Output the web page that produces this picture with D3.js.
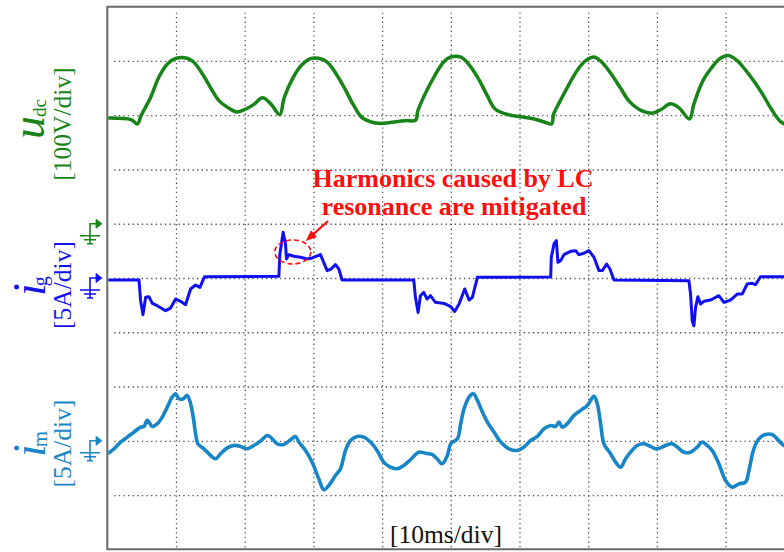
<!DOCTYPE html>
<html>
<head>
<meta charset="utf-8">
<script src="https://cdn.jsdelivr.net/npm/d3@7"></script>
<style>
  html, body { margin: 0; padding: 0; background: #ffffff; }
  svg { display: block; }
  text { font-family: "Liberation Serif", "Times New Roman", serif; }
</style>
</head>
<body>
<svg id="scope" width="784" height="552"></svg>
<script>
// Time axis: 10 ms per division, 10 divisions
const timeGridMs = [10, 20, 30, 40, 50, 60, 70, 80, 90];
const voltGridDiv = [1, 2, 3, 4, 5, 6, 7, 8, 9];

// DC-link voltage u_dc (V)
const udcTime = [0,3.45,4.39,4.90,6.28,7.53,8.79,10.04,11.61,12.56,13.81,15.07,16.32,17.58,18.83,20.09,21.34,22.60,23.85,25.11,25.74,26.99,28.25,29.50,30.76,32.02,33.27,34.53,35.78,37.04,38.29,39.55,41.43,43.31,44.88,45.20,46.45,47.71,48.96,49.91,51.48,52.73,53.99,55.24,56.50,58.38,60.26,62.15,63.72,64.66,64.97,65.91,67.17,68.42,69.68,70.94,72.19,73.45,74.70,75.96,77.84,79.41,80.67,81.92,83.18,84.75,85.37,86.63,87.88,89.14,90.40,91.65,92.91,94.16,95.42,96.67,98.12,100];
const udcValue = [195,192,184,199,232,271,295,305,305,298,277,250,226,214,206,211,220,232,220,201,232,268,292,304,305,298,277,250,220,196,188,185,187,190,191,208,244,274,298,307,307,292,268,238,211,201,197,193,187,184,202,226,256,283,301,307,295,274,250,226,208,204,211,221,214,193,220,262,286,304,310,301,283,262,238,211,187,178];

// Grid current i_g (A)
const igTime = [0,4.61,4.85,5.19,5.58,6.06,6.55,7.27,8.48,9.21,9.94,10.67,11.39,12.12,12.85,13.48,14.16,24.97,25.12,25.60,25.94,26.08,26.42,27.15,28.12,29.09,29.82,31.03,32.00,32.58,33.21,33.70,34.18,44.61,44.85,45.24,45.58,46.06,46.55,47.03,47.76,49.02,49.99,50.57,51.20,52.03,52.66,53.14,53.87,64.54,64.63,65.02,65.36,65.60,65.99,66.47,67.44,68.17,68.66,69.38,70.11,70.84,71.57,72.05,72.68,73.17,73.75,84.66,84.90,85.14,85.38,85.63,85.97,86.35,86.84,87.81,89.02,89.75,90.72,91.69,92.41,93.14,93.87,94.35,95.08,100];
const igValue = [-0.18,-0.18,-2.09,-3.38,-1.78,-1.72,-2.34,-2.55,-3.01,-2.77,-1.94,-2.15,-2.46,-1.01,-0.65,-0.86,0.12,0.15,2.21,4.21,3.14,1.75,2.15,2.0,1.91,1.75,1.85,2.15,0.68,0.83,1.23,0.83,-0.18,-0.18,-1.78,-3.17,-1.63,-1.32,-1.94,-1.63,-2.24,-2.34,-2.64,-3.08,-2.40,-1.01,-2.03,-1.78,0.06,0.10,1.91,3.14,3.44,1.45,1.60,2.15,2.46,2.52,2.15,2.28,2.52,1.91,0.68,0.68,1.29,0.83,-0.18,-0.25,-1.48,-3.94,-4.40,-2.71,-1.72,-2.40,-2.15,-2.03,-1.63,-2.24,-2.03,-1.48,-1.48,-0.55,-0.49,-0.62,0.12,0.12];

// Motor current i_m (A)
const imTime = [0,0.97,1.94,2.91,3.88,4.85,5.33,5.82,6.55,7.27,8.00,8.73,9.45,9.94,10.42,11.05,11.64,12.12,12.51,12.85,13.19,14.06,15.03,15.76,16.48,17.45,18.42,19.39,20.36,21.33,22.30,23.27,23.76,24.73,25.70,26.67,27.39,27.88,28.85,29.82,30.79,31.52,32.24,33.21,33.94,34.67,35.39,36.36,37.33,38.30,39.27,40.24,41.21,42.18,43.15,44.12,45.33,46.30,47.27,48.00,48.73,49.50,49.99,50.96,51.44,51.93,52.66,53.29,53.87,54.60,55.32,56.29,57.26,58.47,59.69,60.66,61.63,62.60,63.57,64.54,65.26,65.75,66.23,66.96,67.93,68.90,69.87,70.84,71.32,71.81,72.29,73.26,73.99,74.72,75.44,76.17,77.14,78.11,79.08,79.81,80.53,81.26,82.23,82.96,83.93,84.90,85.87,86.59,87.32,88.05,89.02,89.99,90.96,91.93,92.90,93.38,94.11,94.84,95.81,96.78,97.50,98.47,100];
const imValue = [-1.20,-0.74,-0.12,0.34,0.80,1.26,1.32,1.88,1.32,1.57,2.18,3.11,4.03,4.34,3.87,3.87,4.18,3.41,2.18,0.65,-0.28,-0.74,-1.35,-1.66,-1.20,-0.65,-0.43,-0.52,-0.74,-0.43,-0.03,0.49,0.34,-0.28,-0.34,0.09,0.40,-0.12,-0.89,-1.97,-3.51,-4.52,-4.12,-3.20,-2.58,-0.89,0.03,0.40,0.34,-0.12,-0.89,-1.97,-2.43,-2.58,-2.27,-1.75,-1.05,-1.14,-1.26,-1.66,-2.12,-1.35,-0.28,0.18,1.57,2.95,4.03,4.34,3.72,2.65,1.72,0.80,-0.12,-0.74,-0.89,-0.58,0.03,0.40,1.11,1.41,1.32,1.72,1.26,1.57,2.34,2.80,3.26,4.09,3.41,1.57,-0.28,-1.20,-1.97,-2.43,-1.66,-1.05,-0.43,-0.28,-0.52,-0.74,-0.65,-0.43,-0.28,-0.58,-1.05,-1.05,-0.58,-0.12,-0.43,-0.89,-2.12,-3.66,-4.27,-3.97,-3.81,-2.77,-0.74,0.18,0.58,0.58,0.18,-0.43,-0.60];

const svg = d3.select("#scope");

// Screen geometry: 10 x 10 divisions, right edge runs past the window
const scrLeft = 107.3, scrTop = 6.7, scrBottom = 549.3, divW = 68.7;
const x = d3.scaleLinear().domain([0, 100]).range([scrLeft, scrLeft + 10 * divW]);
const yDiv = d3.scaleLinear().domain([0, 10]).range([scrTop, scrBottom]);

// Per-channel vertical scales: ground offset and volts/amps per division
const yU  = d3.scaleLinear().domain([-600, 400]).range([scrBottom, scrTop]); // 100 V/div, ground at div 4
const yIg = d3.scaleLinear().domain([-25, 25]).range([scrBottom, scrTop]);   // 5 A/div, ground at div 5
const yIm = d3.scaleLinear().domain([-10, 40]).range([scrBottom, scrTop]);   // 5 A/div, ground at div 8

// Dotted graticule
const gridColor = "#505050";
const vGrid = svg.append("g")
  .attr("transform", `translate(0,${scrBottom - 2})`)
  .call(d3.axisBottom(x).tickValues(timeGridMs).tickSize(-(scrBottom - scrTop - 8)).tickFormat(""));
const hGrid = svg.append("g")
  .attr("transform", `translate(${scrLeft + 7},0)`)
  .call(d3.axisLeft(yDiv).tickValues(voltGridDiv).tickSize(-(784 - scrLeft)).tickFormat(""));
[vGrid, hGrid].forEach(g => {
  g.select(".domain").remove();
  g.selectAll(".tick line")
    .attr("stroke", gridColor)
    .attr("stroke-width", 1.3)
    .attr("stroke-dasharray", "1.3,3.3");
});

// Screen frame
svg.append("path")
  .attr("d", `M790,${scrTop}H${scrLeft}V${scrBottom}H790`)
  .attr("fill", "none")
  .attr("stroke", "#6a6a6a")
  .attr("stroke-width", 2);

// Traces
const channels = [
  { t: udcTime, v: udcValue, y: yU,  color: "#188418", width: 3.5, curve: d3.curveCatmullRom.alpha(0.5) },
  { t: igTime,  v: igValue,  y: yIg, color: "#0f0ff0", width: 3.0, curve: d3.curveLinear },
  { t: imTime,  v: imValue,  y: yIm, color: "#1886c6", width: 3.6, curve: d3.curveCatmullRom.alpha(0.5) }
];

svg.append("clipPath").attr("id", "plotArea")
  .append("rect").attr("x", scrLeft + 1).attr("y", scrTop + 1)
  .attr("width", 784 - scrLeft).attr("height", scrBottom - scrTop - 2);

channels.forEach(ch => {
  const line = d3.line()
    .x((d, i) => x(ch.t[i]))
    .y((d, i) => ch.y(ch.v[i]))
    .curve(ch.curve);
  svg.append("path")
    .datum(ch.v)
    .attr("clip-path", "url(#plotArea)")
    .attr("d", line)
    .attr("fill", "none")
    .attr("stroke", ch.color)
    .attr("stroke-width", ch.width)
    .attr("stroke-linejoin", "round")
    .attr("stroke-linecap", "round");
});

// Ground reference markers
function groundMarker(yPos, color) {
  const g = svg.append("g").attr("stroke", color).attr("fill", "none").attr("stroke-width", 1.6);
  const stemX = 90, tipX = 102;
  g.append("path").attr("d", `M${stemX},${yPos + 20}V${yPos}H${tipX - 5}`);
  g.append("path").attr("d", `M${tipX - 6},${yPos - 4.5}L${tipX},${yPos}L${tipX - 6},${yPos + 4.5}Z`)
    .attr("fill", color).attr("stroke-width", 0.8);
  g.append("path").attr("d",
    `M${stemX - 10},${yPos + 12}H${stemX + 10}M${stemX - 6},${yPos + 16}H${stemX + 6}M${stemX - 3},${yPos + 20}H${stemX + 3}`);
}
groundMarker(yU(0), "#188418");
groundMarker(yIg(0), "#0f0ff0");
groundMarker(yIm(0), "#1886c6");

// Channel labels (rotated, reading bottom to top)
function channelLabel(cfg) {
  const t = svg.append("text")
    .attr("transform", `translate(${cfg.bx},${cfg.by}) rotate(-90)`)
    .attr("fill", cfg.color);
  t.append("tspan").attr("font-style", "italic").attr("font-size", 46).text(cfg.main);
  t.append("tspan").attr("font-size", cfg.subSize).attr("dx", cfg.subDx).attr("dy", 2).text(cfg.sub);
  svg.append("text")
    .attr("transform", `translate(70.5,${cfg.scaleY}) rotate(-90)`)
    .attr("text-anchor", "middle")
    .attr("font-size", 25.5)
    .attr("fill", cfg.color)
    .text(cfg.scaleText);
}
channelLabel({ main: "u", sub: "dc", bx: 43.5, by: 139, subSize: 19, subDx: -1, color: "#188418", scaleY: 124, scaleText: "[100V/div]" });
channelLabel({ main: "i", sub: "g",  bx: 45,   by: 296, subSize: 20, subDx: -3, color: "#1414e8", scaleY: 285, scaleText: "[5A/div]" });
channelLabel({ main: "i", sub: "m",  bx: 45,   by: 457, subSize: 21, subDx: -3, color: "#1886c6", scaleY: 443.5, scaleText: "[5A/div]" });

// Time base label
svg.append("text")
  .attr("x", 446).attr("y", 543)
  .attr("text-anchor", "middle")
  .attr("font-size", 25.5)
  .attr("fill", "#111")
  .text("[10ms/div]");

// Annotation on the i_g trace
const red = "#ff0d0d";
const ellCx = x(27.0), ellCy = yIg(2.4);
svg.append("ellipse")
  .attr("cx", ellCx).attr("cy", ellCy).attr("rx", 18).attr("ry", 12)
  .attr("fill", "none").attr("stroke", red).attr("stroke-width", 1.6)
  .attr("stroke-dasharray", "5,3");
const arrTipX = ellCx + 13, arrTipY = ellCy - 11, arrTailX = 328, arrTailY = 221;
const ang = Math.atan2(arrTipY - arrTailY, arrTipX - arrTailX);
svg.append("line")
  .attr("x1", arrTailX).attr("y1", arrTailY)
  .attr("x2", arrTipX - 8 * Math.cos(ang)).attr("y2", arrTipY - 8 * Math.sin(ang))
  .attr("stroke", red).attr("stroke-width", 2.2);
const ah = 11, aw = 4.5;
svg.append("path")
  .attr("d", `M${arrTipX},${arrTipY}` +
    `L${arrTipX - ah * Math.cos(ang) + aw * Math.sin(ang)},${arrTipY - ah * Math.sin(ang) - aw * Math.cos(ang)}` +
    `L${arrTipX - ah * Math.cos(ang) - aw * Math.sin(ang)},${arrTipY - ah * Math.sin(ang) + aw * Math.cos(ang)}Z`)
  .attr("fill", red);
const note = svg.append("text")
  .attr("text-anchor", "middle")
  .attr("font-weight", "bold")
  .attr("font-size", 26)
  .attr("fill", red);
note.append("tspan").attr("x", 453).attr("y", 187).text("Harmonics caused by LC");
note.append("tspan").attr("x", 454).attr("y", 215).text("resonance are mitigated");
</script>
</body>
</html>
